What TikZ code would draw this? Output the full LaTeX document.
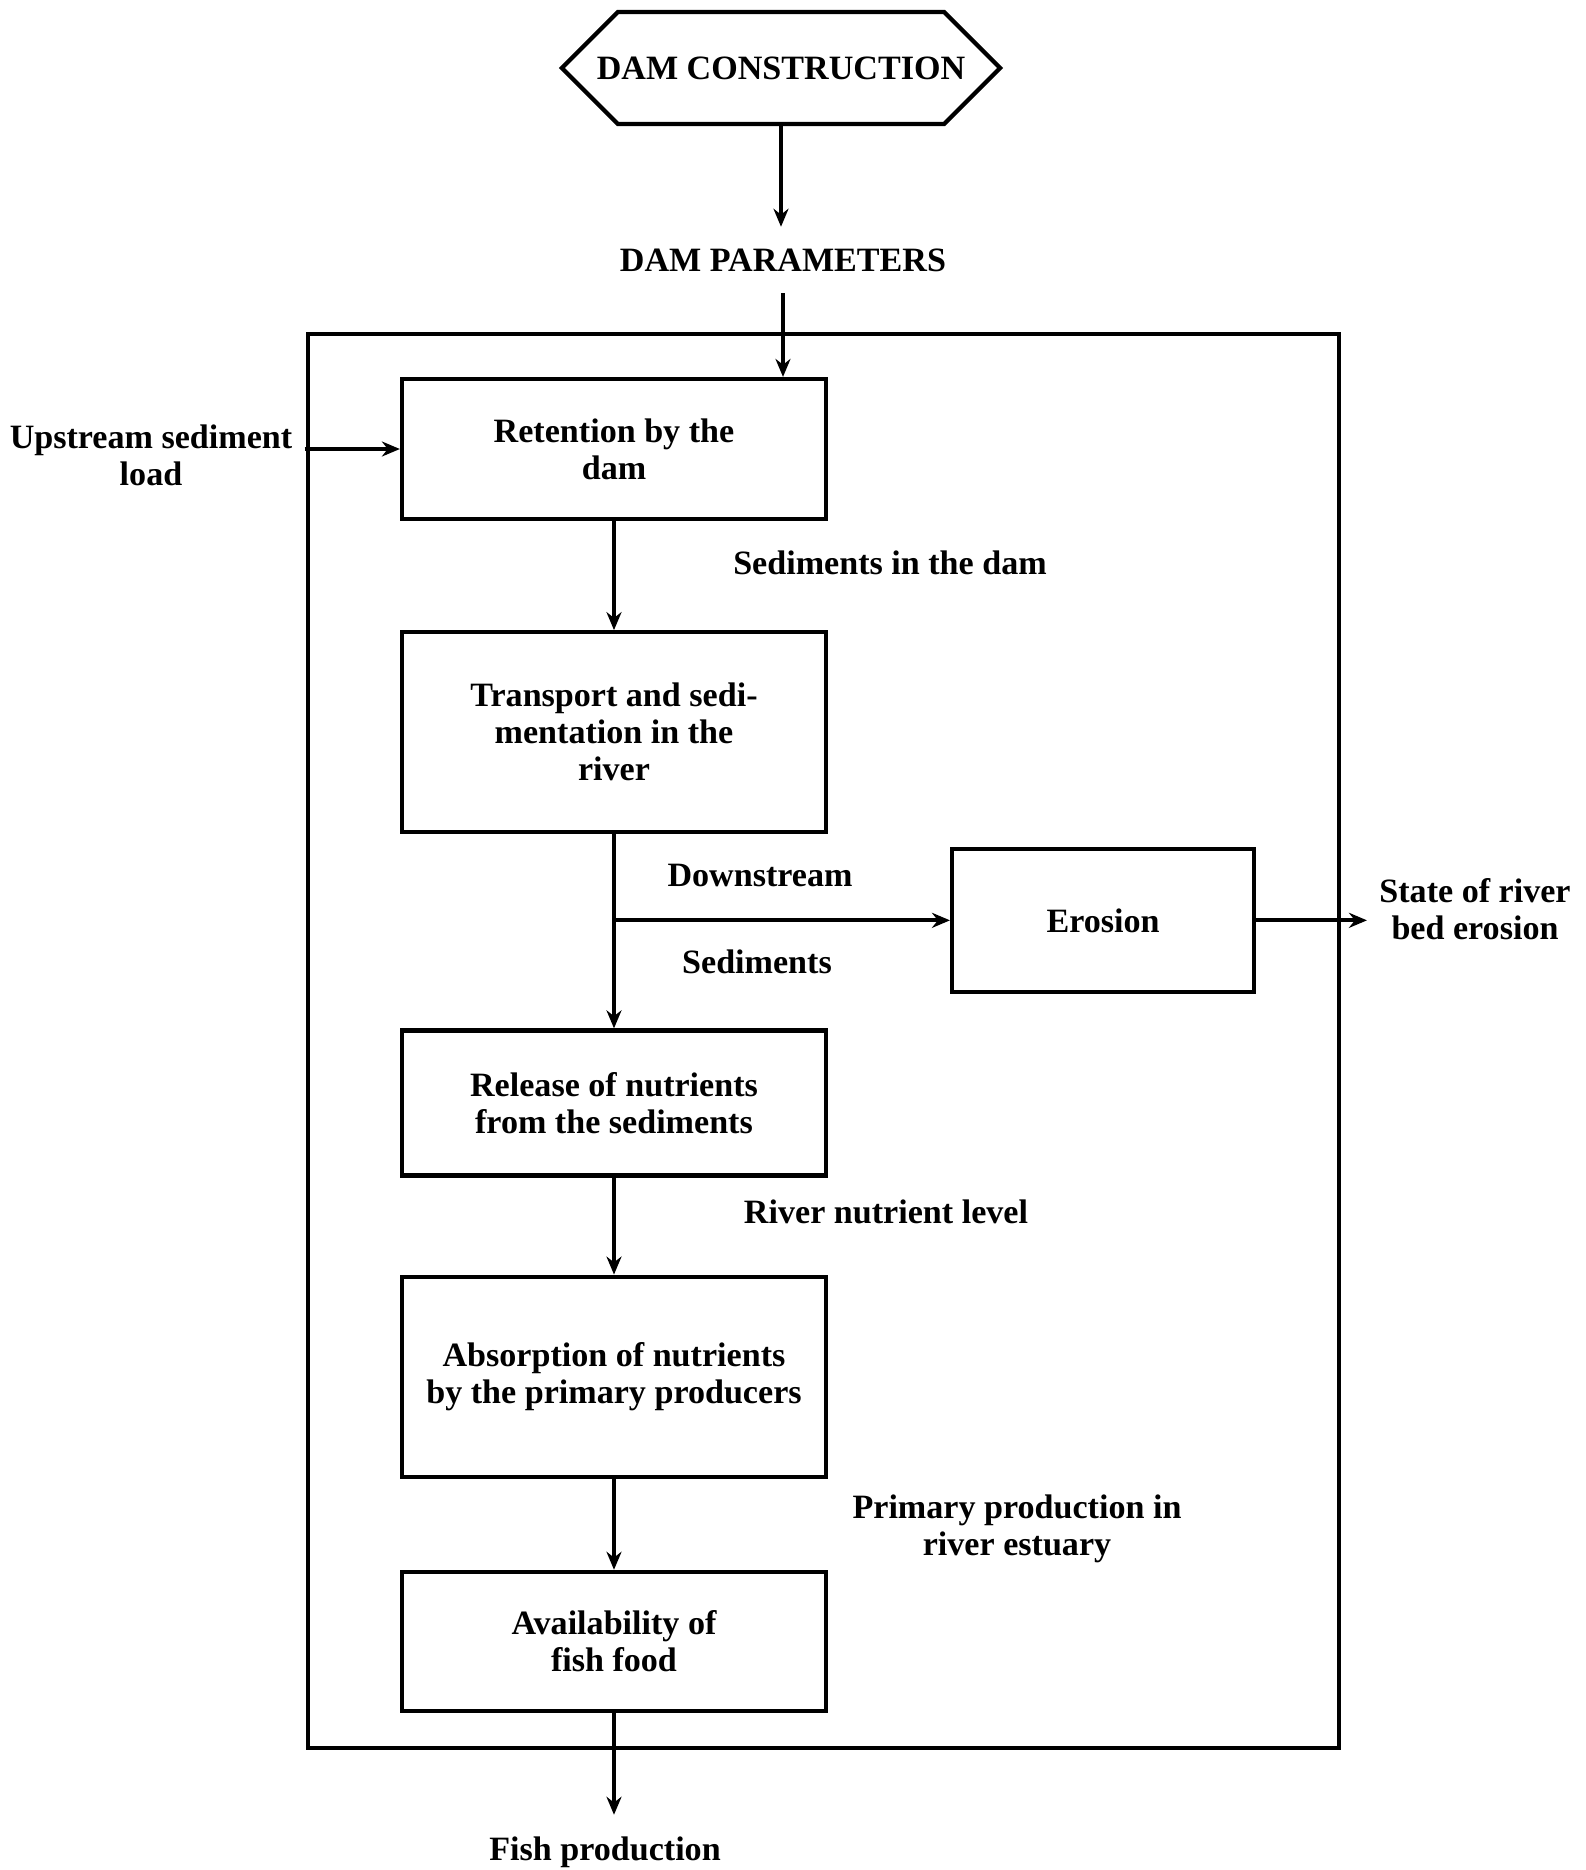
\documentclass[tikz,border=0pt]{standalone}
\usepackage{fontspec}
\setmainfont{Liberation Serif}
\usetikzlibrary{arrows.meta,positioning,calc,shapes.symbols}

\begin{document}
\begin{tikzpicture}[
  node distance=1cm and 1cm,
  every node/.style={font=\bfseries\fontsize{9.7}{10.5}\selectfont, align=center},
  box/.style={draw, line width=1.2pt, minimum width=4.24cm, inner sep=4pt},
  hexa/.style={draw, line width=1.2pt, shape=signal, signal to=west and east,
    signal pointer angle=90, inner xsep=-0.21cm, minimum height=1.12cm},
  arr/.style={-{Stealth[length=1.8mm,width=1.5mm]}, line width=1.1pt}
]
  \useasboundingbox (0,0) rectangle (15.86,-18.70);
  % outer frame of the model
  \draw[line width=1.1pt] (3.08,-3.34) rectangle (13.39,-17.48);

  \node[hexa] (dam) at (7.81,-0.68) {DAM CONSTRUCTION};
  \node[inner ysep=6pt] (param) at (7.83,-2.60) {DAM PARAMETERS};

  \node[box, minimum height=1.40cm] (ret) at (6.14,-4.49) {Retention by the\\dam};
  \node[box, minimum height=2.00cm, below=1.09cm of ret] (trans)
    {Transport and sedi-\\mentation in the\\river};
  \node[box, minimum height=1.45cm, below=1.94cm of trans] (rel)
    {Release of nutrients\\from the sediments};
  \node[box, minimum height=2.00cm, below=0.97cm of rel] (absorb)
    {Absorption of nutrients\\by the primary producers};
  \node[box, minimum height=1.39cm, below=0.91cm of absorb] (avail)
    {Availability of\\fish food};

  \path (trans.south) ++(0,-0.86) coordinate (br);
  \node[box, minimum width=3.02cm, minimum height=1.43cm, right=3.36cm of br] (ero) {Erosion};

  \node (upload) at (1.51,-4.55) {Upstream sediment\\load};
  \node (seddam) at (8.90,-5.63) {Sediments in the dam};
  \node (down) at (7.60,-8.75) {Downstream};
  \node (sed) at (7.57,-9.62) {Sediments};
  \node (state) at (14.75,-9.09) {State of river\\bed erosion};
  \node (nutlev) at (8.86,-12.12) {River nutrient level};
  \node (prim) at (10.17,-15.29) {Primary production in\\river estuary};
  \node[inner ysep=6pt] (fish) at (6.05,-18.52) {Fish production};

  \draw[arr] (dam.south) -- (dam.south |- param.north);
  \draw[arr] (param.south) -- (param.south |- ret.north);
  \draw[arr] (ret.west -| upload.east) -- (ret.west);
  \draw[arr] (ret) -- (trans);
  \draw[arr] (trans) -- (rel);
  \draw[arr] (br) -- (ero.west);
  \draw[arr] (ero.east) -- (ero.east -| state.west);
  \draw[arr] (rel) -- (absorb);
  \draw[arr] (absorb) -- (avail);
  \draw[arr] (avail) -- (avail.south |- fish.north);
\end{tikzpicture}
\end{document}
